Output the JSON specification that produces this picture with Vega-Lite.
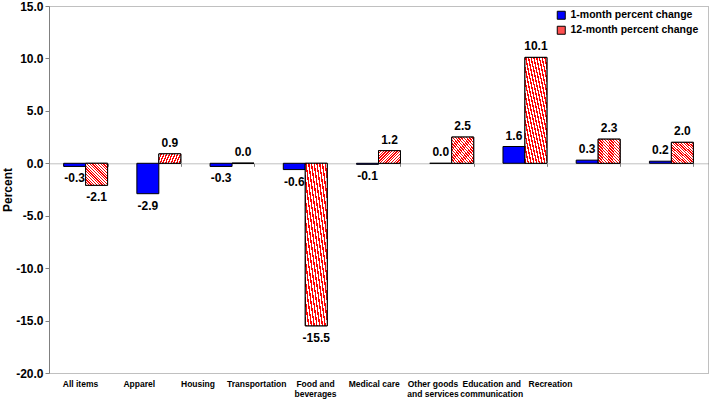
{
  "$schema": "https://vega.github.io/schema/vega-lite/v6.json",
  "width": 659,
  "height": 367,
  "autosize": {"type": "none"},
  "padding": {"left": 49, "top": 6, "right": 2, "bottom": 34},
  "background": "white",
  "config": {
    "view": {"stroke": "#808080", "strokeDash": [1, 1]},
    "font": "Liberation Sans",
    "locale": {"number": {"decimal": ".", "thousands": ",", "grouping": [3], "currency": ["$", ""], "minus": "-"}}
  },
  "data": {
    "values": [
      {"category": "All items", "series": "1-month percent change", "value": -0.3},
      {"category": "All items", "series": "12-month percent change", "value": -2.1},
      {"category": "Apparel", "series": "1-month percent change", "value": -2.9},
      {"category": "Apparel", "series": "12-month percent change", "value": 0.9},
      {"category": "Housing", "series": "1-month percent change", "value": -0.3},
      {"category": "Housing", "series": "12-month percent change", "value": 0.0},
      {"category": "Transportation", "series": "1-month percent change", "value": -0.6},
      {"category": "Transportation", "series": "12-month percent change", "value": -15.5},
      {"category": "Food and|beverages", "series": "1-month percent change", "value": -0.1},
      {"category": "Food and|beverages", "series": "12-month percent change", "value": 1.2},
      {"category": "Medical care", "series": "1-month percent change", "value": 0.0},
      {"category": "Medical care", "series": "12-month percent change", "value": 2.5},
      {"category": "Other goods|and services", "series": "1-month percent change", "value": 1.6},
      {"category": "Other goods|and services", "series": "12-month percent change", "value": 10.1},
      {"category": "Education and|communication", "series": "1-month percent change", "value": 0.3},
      {"category": "Education and|communication", "series": "12-month percent change", "value": 2.3},
      {"category": "Recreation", "series": "1-month percent change", "value": 0.2},
      {"category": "Recreation", "series": "12-month percent change", "value": 2.0}
    ]
  },
  "resolve": {"scale": {"x": "independent"}, "axis": {"x": "independent"}},
  "layer": [
    {
      "encoding": {
        "x": {
          "field": "category",
          "type": "nominal",
          "sort": null,
          "scale": {"paddingInner": 0.4, "paddingOuter": 0.2},
          "axis": {
            "orient": "bottom",
            "offset": -209.7,
            "title": null,
            "labels": false,
            "ticks": true,
            "tickBand": "extent",
            "tickSize": 3,
            "tickColor": "#808080",
            "domain": true,
            "domainColor": "#808080",
            "domainDash": [1, 1],
            "grid": false
          }
        },
        "xOffset": {
          "field": "series",
          "type": "nominal",
          "scale": {"domain": ["1-month percent change", "12-month percent change"], "paddingInner": 0, "paddingOuter": 0}
        },
        "y": {
          "field": "value",
          "type": "quantitative",
          "scale": {"domain": [-20, 15], "nice": false, "zero": false},
          "axis": {
            "values": [-20, -15, -10, -5, 0, 5, 10, 15],
            "format": ".1f",
            "title": "Percent",
            "titleFont": "Liberation Sans",
            "titleFontSize": 12,
            "titleFontWeight": "bold",
            "titleColor": "black",
            "titlePadding": 1,
            "labelFont": "Liberation Sans",
            "labelFontSize": 12,
            "labelFontWeight": "bold",
            "labelColor": "black",
            "labelPadding": 2,
            "tickSize": 4,
            "tickColor": "#808080",
            "domainColor": "#808080",
            "grid": false
          }
        }
      },
      "layer": [
        {
          "mark": {"type": "bar", "stroke": "black", "strokeWidth": 1},
          "encoding": {
            "color": {
              "field": "series",
              "type": "nominal",
              "scale": {"domain": ["1-month percent change", "12-month percent change"], "range": ["#0000ff", "#ff5050"]},
              "legend": {
                "title": null,
                "orient": "none",
                "legendX": 507,
                "legendY": 4,
                "symbolType": "square",
                "symbolSize": 64,
                "symbolStrokeColor": "black",
                "symbolStrokeWidth": 1,
                "symbolOpacity": 1,
                "labelFont": "Liberation Sans",
                "labelFontSize": 10.5,
                "labelFontWeight": "bold",
                "labelColor": "black",
                "labelOffset": 4,
                "rowPadding": 2,
                "padding": 0
              }
            }
          }
        },
        {
          "transform": [{"filter": "datum.series == '12-month percent change'"}],
          "mark": {
            "type": "bar",
            "stroke": "black",
            "strokeWidth": 1,
            "fill": {
              "gradient": "linear",
              "x1": 0, "y1": 1, "x2": 1, "y2": 0,
              "stops": [
                {"offset": 0, "color": "#ff0000"}, {"offset": 0.03125, "color": "#ff0000"},
                {"offset": 0.03125, "color": "#ffffff"}, {"offset": 0.0625, "color": "#ffffff"},
                {"offset": 0.0625, "color": "#ff0000"}, {"offset": 0.09375, "color": "#ff0000"},
                {"offset": 0.09375, "color": "#ffffff"}, {"offset": 0.125, "color": "#ffffff"},
                {"offset": 0.125, "color": "#ff0000"}, {"offset": 0.15625, "color": "#ff0000"},
                {"offset": 0.15625, "color": "#ffffff"}, {"offset": 0.1875, "color": "#ffffff"},
                {"offset": 0.1875, "color": "#ff0000"}, {"offset": 0.21875, "color": "#ff0000"},
                {"offset": 0.21875, "color": "#ffffff"}, {"offset": 0.25, "color": "#ffffff"},
                {"offset": 0.25, "color": "#ff0000"}, {"offset": 0.28125, "color": "#ff0000"},
                {"offset": 0.28125, "color": "#ffffff"}, {"offset": 0.3125, "color": "#ffffff"},
                {"offset": 0.3125, "color": "#ff0000"}, {"offset": 0.34375, "color": "#ff0000"},
                {"offset": 0.34375, "color": "#ffffff"}, {"offset": 0.375, "color": "#ffffff"},
                {"offset": 0.375, "color": "#ff0000"}, {"offset": 0.40625, "color": "#ff0000"},
                {"offset": 0.40625, "color": "#ffffff"}, {"offset": 0.4375, "color": "#ffffff"},
                {"offset": 0.4375, "color": "#ff0000"}, {"offset": 0.46875, "color": "#ff0000"},
                {"offset": 0.46875, "color": "#ffffff"}, {"offset": 0.5, "color": "#ffffff"},
                {"offset": 0.5, "color": "#ff0000"}, {"offset": 0.53125, "color": "#ff0000"},
                {"offset": 0.53125, "color": "#ffffff"}, {"offset": 0.5625, "color": "#ffffff"},
                {"offset": 0.5625, "color": "#ff0000"}, {"offset": 0.59375, "color": "#ff0000"},
                {"offset": 0.59375, "color": "#ffffff"}, {"offset": 0.625, "color": "#ffffff"},
                {"offset": 0.625, "color": "#ff0000"}, {"offset": 0.65625, "color": "#ff0000"},
                {"offset": 0.65625, "color": "#ffffff"}, {"offset": 0.6875, "color": "#ffffff"},
                {"offset": 0.6875, "color": "#ff0000"}, {"offset": 0.71875, "color": "#ff0000"},
                {"offset": 0.71875, "color": "#ffffff"}, {"offset": 0.75, "color": "#ffffff"},
                {"offset": 0.75, "color": "#ff0000"}, {"offset": 0.78125, "color": "#ff0000"},
                {"offset": 0.78125, "color": "#ffffff"}, {"offset": 0.8125, "color": "#ffffff"},
                {"offset": 0.8125, "color": "#ff0000"}, {"offset": 0.84375, "color": "#ff0000"},
                {"offset": 0.84375, "color": "#ffffff"}, {"offset": 0.875, "color": "#ffffff"},
                {"offset": 0.875, "color": "#ff0000"}, {"offset": 0.90625, "color": "#ff0000"},
                {"offset": 0.90625, "color": "#ffffff"}, {"offset": 0.9375, "color": "#ffffff"},
                {"offset": 0.9375, "color": "#ff0000"}, {"offset": 0.96875, "color": "#ff0000"},
                {"offset": 0.96875, "color": "#ffffff"}, {"offset": 1, "color": "#ffffff"}
              ]
            }
          }
        },
        {
          "transform": [{"filter": "datum.value >= 0"}],
          "mark": {"type": "text", "baseline": "bottom", "dy": -4, "font": "Liberation Sans", "fontSize": 12, "fontWeight": "bold", "color": "black"},
          "encoding": {"text": {"field": "value", "type": "quantitative", "format": ".1f"}}
        },
        {
          "transform": [{"filter": "datum.value < 0"}],
          "mark": {"type": "text", "baseline": "top", "dy": 7, "font": "Liberation Sans", "fontSize": 12, "fontWeight": "bold", "color": "black"},
          "encoding": {"text": {"field": "value", "type": "quantitative", "format": ".1f"}}
        }
      ]
    },
    {
      "transform": [{"filter": "datum.series == '1-month percent change'"}],
      "mark": {"type": "point", "opacity": 0},
      "encoding": {
        "x": {
          "field": "category",
          "type": "nominal",
          "sort": null,
          "scale": {"type": "point", "padding": 0, "range": [31, 501]},
          "axis": {
            "orient": "bottom",
            "title": null,
            "labelAngle": 0,
            "labelExpr": "split(datum.value, '|')",
            "labelFont": "Liberation Sans",
            "labelFontSize": 8.5,
            "labelFontWeight": "bold",
            "labelColor": "black",
            "labelLineHeight": 10,
            "labelPadding": 6,
            "labelBaseline": "top",
            "labelOverlap": false,
            "ticks": false,
            "domain": false,
            "grid": false
          }
        },
        "y": {"datum": 0, "type": "quantitative"}
      }
    }
  ]
}
